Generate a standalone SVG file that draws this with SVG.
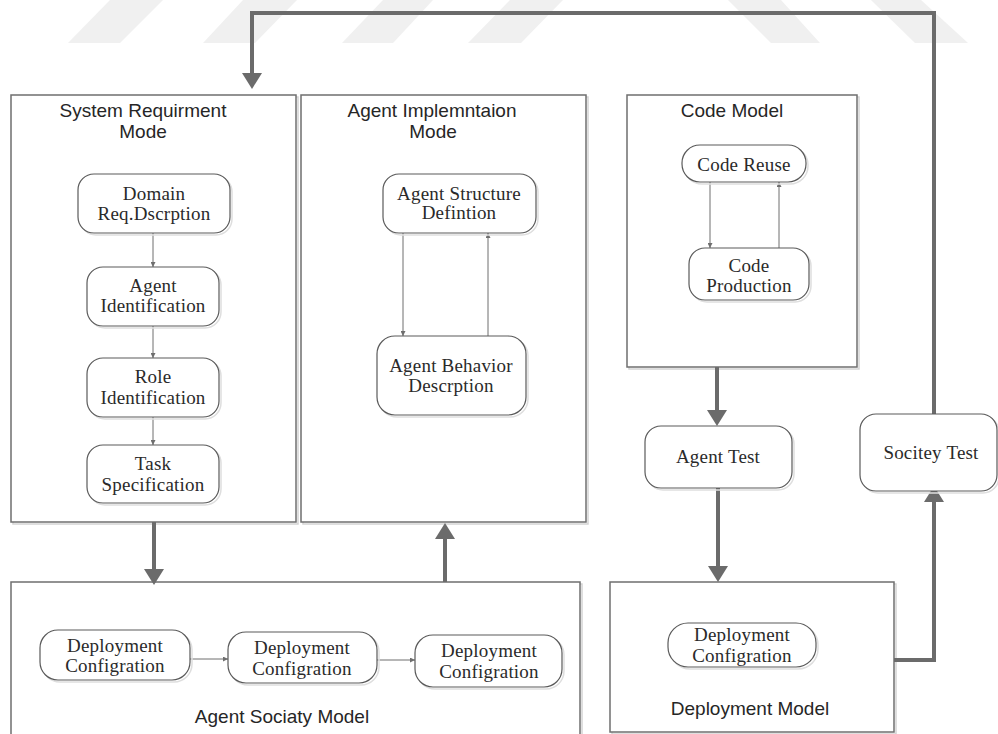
<svg xmlns="http://www.w3.org/2000/svg" width="998" height="734" viewBox="0 0 998 734">
  <style>
    .wm { fill: #f0f0f0; }
    .frame { fill: #ffffff; stroke: #6f6f6f; stroke-width: 1.5; }
    .frame-sh { fill: none; stroke: #d4d4d4; stroke-width: 1.5; }
    .node { fill: #ffffff; stroke: #5a5a5a; stroke-width: 1.2; }
    .node-sh { fill: none; stroke: #dedede; stroke-width: 1.5; }
    .title { font-family: "Liberation Sans", Arial, sans-serif; font-size: 19px; fill: #262626; text-anchor: middle; }
    .label { font-family: "Liberation Serif", "Times New Roman", serif; font-size: 19px; fill: #2a2a2a; text-anchor: middle; letter-spacing: 0.2px; }
    .thick { fill: none; stroke: #6b6b6b; stroke-width: 4; stroke-linejoin: miter; }
    .thin { fill: none; stroke: #6e6e6e; stroke-width: 1; }
  </style>
  <defs>
    <marker id="bigHead" viewBox="0 0 16 20" refX="0" refY="10" markerWidth="16" markerHeight="20" markerUnits="userSpaceOnUse" orient="auto">
      <path d="M0,0 L16,10 L0,20 z" fill="#6b6b6b"/>
    </marker>
    <marker id="smallHead" viewBox="0 0 5 5" refX="5" refY="2.5" markerWidth="5" markerHeight="5" markerUnits="userSpaceOnUse" orient="auto">
      <path d="M0,0 L5,2.5 L0,5 z" fill="#6e6e6e"/>
    </marker>
  </defs>

  <rect width="998" height="734" fill="#ffffff"/>

  <!-- faint background stripes along the top edge -->
  <g id="stripes">
    <polygon class="wm" points="68,43 120,43 163,0 110,0"/>
    <polygon class="wm" points="203,43 255,43 297,0 243,0"/>
    <polygon class="wm" points="342,43 393,43 433,0 383,0"/>
    <polygon class="wm" points="468,43 521,43 563,0 510,0"/>
    <polygon class="wm" points="728,0 781,0 820,43 771,43"/>
    <polygon class="wm" points="871,0 921,0 968,43 915,43"/>
  </g>

  <!-- container: System Requirment Mode -->
  <g id="system-requirment-mode">
    <rect class="frame-sh" x="13" y="97" width="285" height="427"/>
    <rect class="frame" x="11" y="95" width="285" height="427"/>
    <text class="title" x="143" y="117">System Requirment</text>
    <text class="title" x="143" y="138">Mode</text>
  </g>

  <!-- container: Agent Implemntaion Mode -->
  <g id="agent-implemntaion-mode">
    <rect class="frame-sh" x="303" y="97" width="285" height="427"/>
    <rect class="frame" x="301" y="95" width="285" height="427"/>
    <text class="title" x="432" y="117">Agent Implemntaion</text>
    <text class="title" x="433" y="138">Mode</text>
  </g>

  <!-- container: Code Model -->
  <g id="code-model">
    <rect class="frame-sh" x="629" y="97" width="230" height="272"/>
    <rect class="frame" x="627" y="95" width="230" height="272"/>
    <text class="title" x="732" y="117">Code Model</text>
  </g>

  <!-- container: Agent Sociaty Model -->
  <g id="agent-sociaty-model">
    <rect class="frame-sh" x="13" y="584" width="569" height="160"/>
    <rect class="frame" x="11" y="582" width="569" height="160"/>
    <text class="title" x="282" y="723">Agent Sociaty Model</text>
  </g>

  <!-- container: Deployment Model -->
  <g id="deployment-model">
    <rect class="frame-sh" x="612" y="584" width="284" height="150"/>
    <rect class="frame" x="610" y="582" width="284" height="150"/>
    <text class="title" x="750" y="715">Deployment Model</text>
  </g>

  <!-- connectors -->
  <g id="connectors">
    <!-- thin links inside System Requirment Mode -->
    <path class="thin" d="M153,233 V267" marker-end="url(#smallHead)"/>
    <path class="thin" d="M153,326 V358" marker-end="url(#smallHead)"/>
    <path class="thin" d="M153,417 V445" marker-end="url(#smallHead)"/>
    <!-- thin links inside Agent Implemntaion Mode -->
    <path class="thin" d="M403,233 V336" marker-end="url(#smallHead)"/>
    <path class="thin" d="M488,336 V233" marker-end="url(#smallHead)"/>
    <!-- thin links inside Code Model -->
    <path class="thin" d="M710,182 V248" marker-end="url(#smallHead)"/>
    <path class="thin" d="M779,248 V182" marker-end="url(#smallHead)"/>
    <!-- thin links inside Agent Sociaty Model -->
    <path class="thin" d="M190,659 H228" marker-end="url(#smallHead)"/>
    <path class="thin" d="M377,660 H415" marker-end="url(#smallHead)"/>

    <!-- thick flow between stages -->
    <path class="thick" d="M154,522 V569" marker-end="url(#bigHead)"/>
    <path class="thick" d="M445,582 V539" marker-end="url(#bigHead)"/>
    <path class="thick" d="M717,367 V410" marker-end="url(#bigHead)"/>
    <path class="thick" d="M718,488 V566" marker-end="url(#bigHead)"/>
    <path class="thick" d="M894,660 H934 V502" marker-end="url(#bigHead)"/>
    <path class="thick" d="M934,414 V13 H252 V73" marker-end="url(#bigHead)"/>
  </g>

  <!-- nodes -->
  <g id="domain-req">
    <rect class="node-sh" x="80" y="176" width="152" height="59" rx="16"/>
    <rect class="node" x="78" y="174" width="152" height="59" rx="16"/>
    <text class="label" x="154" y="200">Domain</text>
    <text class="label" x="154" y="220">Req.Dscrption</text>
  </g>
  <g id="agent-identification">
    <rect class="node-sh" x="89" y="269" width="132" height="59" rx="16"/>
    <rect class="node" x="87" y="267" width="132" height="59" rx="16"/>
    <text class="label" x="153" y="292">Agent</text>
    <text class="label" x="153" y="312">Identification</text>
  </g>
  <g id="role-identification">
    <rect class="node-sh" x="89" y="360" width="132" height="59" rx="16"/>
    <rect class="node" x="87" y="358" width="132" height="59" rx="16"/>
    <text class="label" x="153" y="383">Role</text>
    <text class="label" x="153" y="404">Identification</text>
  </g>
  <g id="task-specification">
    <rect class="node-sh" x="89" y="447" width="132" height="58" rx="16"/>
    <rect class="node" x="87" y="445" width="132" height="58" rx="16"/>
    <text class="label" x="153" y="470">Task</text>
    <text class="label" x="153" y="491">Specification</text>
  </g>

  <g id="agent-structure">
    <rect class="node-sh" x="385" y="176" width="153" height="59" rx="16"/>
    <rect class="node" x="383" y="174" width="153" height="59" rx="16"/>
    <text class="label" x="459" y="200">Agent Structure</text>
    <text class="label" x="459" y="219">Defintion</text>
  </g>
  <g id="agent-behavior">
    <rect class="node-sh" x="379" y="338" width="149" height="79" rx="18"/>
    <rect class="node" x="377" y="336" width="149" height="79" rx="18"/>
    <text class="label" x="451" y="372">Agent Behavior</text>
    <text class="label" x="451" y="392">Descrption</text>
  </g>

  <g id="code-reuse">
    <rect class="node-sh" x="684" y="147" width="124" height="37" rx="18"/>
    <rect class="node" x="682" y="145" width="124" height="37" rx="18"/>
    <text class="label" x="744" y="171">Code Reuse</text>
  </g>
  <g id="code-production">
    <rect class="node-sh" x="691" y="250" width="120" height="52" rx="16"/>
    <rect class="node" x="689" y="248" width="120" height="52" rx="16"/>
    <text class="label" x="749" y="272">Code</text>
    <text class="label" x="749" y="292">Production</text>
  </g>

  <g id="agent-test">
    <rect class="node-sh" x="647" y="428" width="147" height="62" rx="16"/>
    <rect class="node" x="645" y="426" width="147" height="62" rx="16"/>
    <text class="label" x="718" y="463">Agent Test</text>
  </g>
  <g id="socitey-test">
    <rect class="node-sh" x="862" y="416" width="137" height="77" rx="16"/>
    <rect class="node" x="860" y="414" width="137" height="77" rx="16"/>
    <text class="label" x="931" y="459">Socitey Test</text>
  </g>

  <g id="deployment-config-final">
    <rect class="node-sh" x="670" y="625" width="148" height="44" rx="20"/>
    <rect class="node" x="668" y="623" width="148" height="44" rx="20"/>
    <text class="label" x="742" y="641">Deployment</text>
    <text class="label" x="742" y="662">Configration</text>
  </g>

  <g id="deployment-config-1">
    <rect class="node-sh" x="42" y="632" width="150" height="50" rx="18"/>
    <rect class="node" x="40" y="630" width="150" height="50" rx="18"/>
    <text class="label" x="115" y="652">Deployment</text>
    <text class="label" x="115" y="672">Configration</text>
  </g>
  <g id="deployment-config-2">
    <rect class="node-sh" x="230" y="634" width="149" height="51" rx="18"/>
    <rect class="node" x="228" y="632" width="149" height="51" rx="18"/>
    <text class="label" x="302" y="654">Deployment</text>
    <text class="label" x="302" y="675">Configration</text>
  </g>
  <g id="deployment-config-3">
    <rect class="node-sh" x="417" y="637" width="147" height="52" rx="18"/>
    <rect class="node" x="415" y="635" width="147" height="52" rx="18"/>
    <text class="label" x="489" y="657">Deployment</text>
    <text class="label" x="489" y="678">Configration</text>
  </g>
</svg>
